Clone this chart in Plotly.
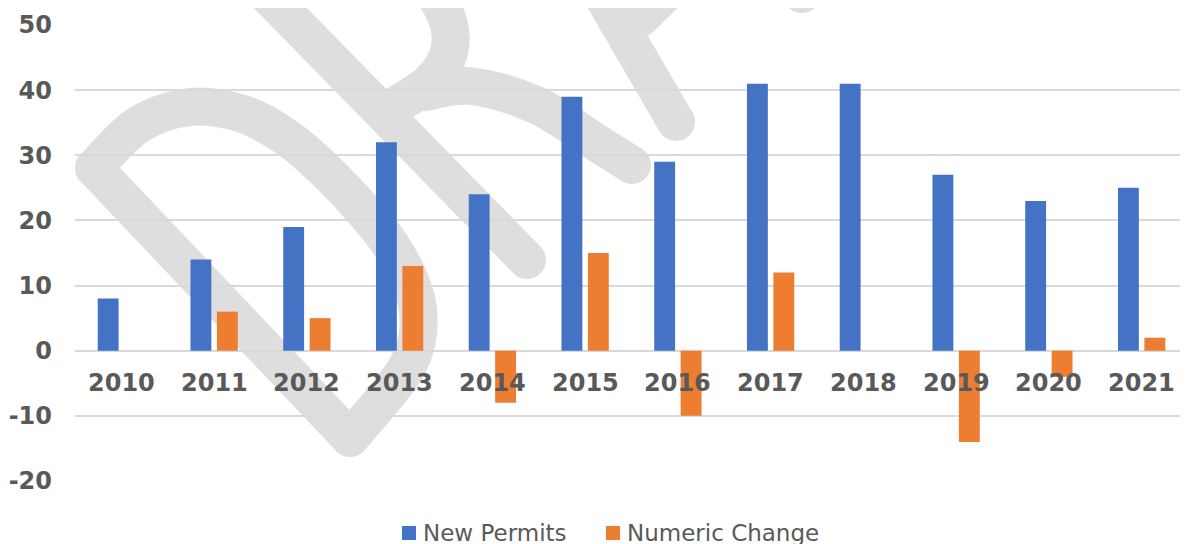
import base64
import plotly.graph_objects as go

categories = ["2010", "2011", "2012", "2013", "2014", "2015", "2016", "2017", "2018", "2019", "2020", "2021"]
new_permits = [8, 14, 19, 32, 24, 39, 29, 41, 41, 27, 23, 25]
numeric_change = [None, 6, 5, 13, -8, 15, -10, 12, None, -14, -4, 2]
y_ticks = [-20, -10, 0, 10, 20, 30, 40, 50]
series_names = ["New Permits", "Numeric Change"]
series_colors = ["#4472C4", "#ED7D31"]

OFF = 8  # default page body margin
W, H = 1188 - OFF, 544 - OFF
L, R, T, B = 75 - OFF, 0, 25 - OFF, 63
pw, ph = W - L - R, H - T - B


def px2paper(x, y):
    # page pixel -> paper coordinates
    return (x - OFF - L) / pw, 1 - (y - OFF - T) / ph


def smooth(pts):
    d = f"M{pts[0][0]},{pts[0][1]}"
    for i in range(len(pts) - 1):
        p0 = pts[i - 1] if i > 0 else pts[i]
        p1, p2 = pts[i], pts[i + 1]
        p3 = pts[i + 2] if i + 2 < len(pts) else pts[i + 1]
        c1 = (p1[0] + (p2[0] - p0[0]) / 6, p1[1] + (p2[1] - p0[1]) / 6)
        c2 = (p2[0] - (p3[0] - p1[0]) / 6, p2[1] - (p3[1] - p1[1]) / 6)
        d += f" C{c1[0]:.1f},{c1[1]:.1f} {c2[0]:.1f},{c2[1]:.1f} {p2[0]},{p2[1]}"
    return d


# "DRAFT" watermark strokes (decoration, page pixel coordinates)
strokes = [
    [(94, 168), (350, 438)],
    [(94, 168), (138, 125), (190, 107), (240, 113), (280, 133), (312, 158), (354, 200),
     (392, 247), (415, 295), (418, 333), (408, 365), (385, 397), (350, 438)],
    [(253, -20), (527, 260)],
    [(415, -25), (438, 0), (450, 30), (447, 58), (428, 84), (385, 112)],
    [(425, 92), (470, 86), (536, 105), (600, 145), (632, 165)],
    [(590, -25), (605, 0), (676, 122)],
    [(640, 18), (705, -45)],
    [(770, -60), (802, -6)],
]
paths = "".join(
    f'<path d="{smooth(s)}" fill="none" stroke="#dedede" stroke-width="38" '
    f'stroke-linecap="round" stroke-linejoin="round"/>' for s in strokes)
svg = (f'<svg xmlns="http://www.w3.org/2000/svg" width="{W}" height="{H}" viewBox="0 0 {W} {H}">'
       f'<g transform="translate(-{OFF},-{OFF})">{paths}</g></svg>')
src = "data:image/svg+xml;base64," + base64.b64encode(svg.encode()).decode()

fig = go.Figure()
fig.add_trace(go.Bar(x=categories, y=new_permits, name=series_names[0],
                     marker=dict(color=series_colors[0], line=dict(width=0))))
fig.add_trace(go.Bar(x=categories, y=numeric_change, name=series_names[1],
                     marker=dict(color=series_colors[1], line=dict(width=0))))

for i, c in enumerate(categories):
    fig.add_annotation(x=i, y=0, xref="x", yref="y", text=c, showarrow=False,
                       yanchor="middle", yshift=-32,
                       font=dict(family="DejaVu Sans", size=24, color="#595959", weight="bold"))

# manual legend
legend_items = [(402, series_names[0], series_colors[0]), (606, series_names[1], series_colors[1])]
for sx, name, col in legend_items:
    x0, y0 = px2paper(sx, 540)
    x1, y1 = px2paper(sx + 14, 526)
    fig.add_shape(type="rect", xref="paper", yref="paper", x0=x0, y0=y0, x1=x1, y1=y1,
                  fillcolor=col, line=dict(width=0))
    tx, ty = px2paper(sx + 19, 533)
    fig.add_annotation(x=tx, y=ty, xref="paper", yref="paper", text=name, showarrow=False,
                       xanchor="left", yanchor="middle",
                       font=dict(family="DejaVu Sans", size=23, color="#595959"))

fig.add_layout_image(dict(source=src, xref="paper", yref="paper",
                          x=-L / pw, y=1 + T / ph, sizex=W / pw, sizey=H / ph,
                          xanchor="left", yanchor="top", sizing="stretch", layer="below"))

fig.update_layout(
    width=W, height=H,
    margin=dict(l=L, r=R, t=T, b=B, autoexpand=False),
    paper_bgcolor="white", plot_bgcolor="rgba(0,0,0,0)",
    barmode="group", bargap=0.43, bargroupgap=0.21,
    showlegend=False,
    xaxis=dict(type="category", showticklabels=False, showgrid=False, zeroline=False,
               showline=False, range=[-0.5, 11.5], automargin=False),
    yaxis=dict(range=[-20, 50], tickvals=y_ticks, ticktext=[str(v) for v in y_ticks],
               showgrid=True, gridcolor="#d9d9d9", gridwidth=1.5,
               zeroline=True, zerolinecolor="#d9d9d9", zerolinewidth=1.5, showline=False,
               ticklabelstandoff=22, automargin=False,
               tickfont=dict(family="DejaVu Sans", size=24, color="#595959", weight="bold")),
)

fig.write_html("out.html")
